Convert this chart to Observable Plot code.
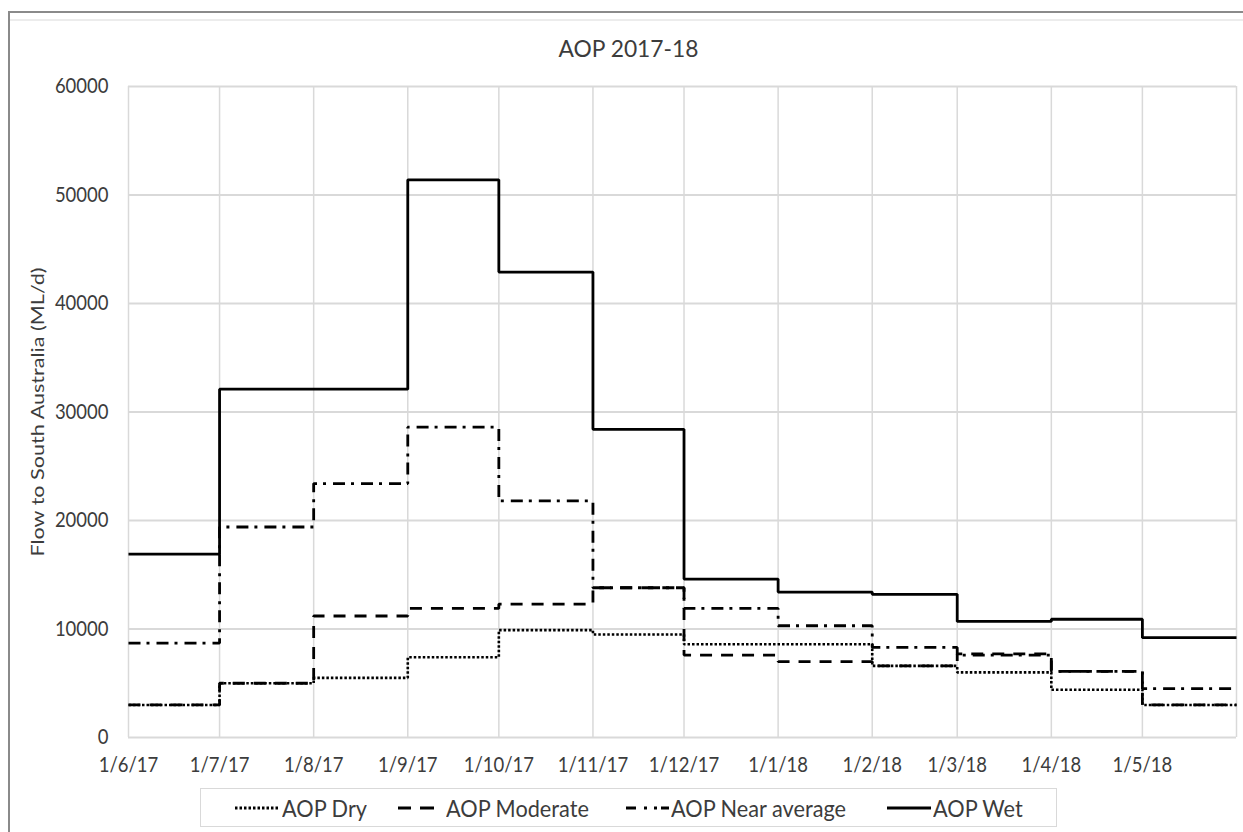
<!DOCTYPE html>
<html>
<head>
<meta charset="utf-8">
<script src="https://cdn.jsdelivr.net/npm/d3@7"></script>
<script src="https://cdn.jsdelivr.net/npm/@observablehq/plot@0.6"></script>
<style>
html,body{margin:0;padding:0;background:#fff;}
body{width:1243px;height:832px;position:relative;overflow:hidden;font-family:Lato,"Open Sans",sans-serif;color:#3c3c3c;}
#frame{position:absolute;left:8px;top:11px;width:1260px;height:900px;border-left:2px solid #8a8a8a;border-top:2px solid #8a8a8a;box-sizing:border-box;}
#shade{position:absolute;left:10px;top:19px;width:1240px;height:2px;background:#ececec;}
#title{position:absolute;top:36px;left:0;width:1257px;text-align:center;font-size:22.8px;line-height:24px;}
#chart{position:absolute;left:0;top:70px;}
#legend{position:absolute;left:200px;top:788px;width:857px;height:39px;border:1.5px solid #d9d9d9;box-sizing:border-box;}
.sw{position:absolute;top:0;height:100%;display:flex;align-items:center;}
.sw svg{display:block;}
.lt{position:absolute;top:0;height:100%;display:flex;align-items:center;font-size:21.7px;white-space:nowrap;}
.lt span{display:inline-block;transform:scaleY(1.1);}
</style>
</head>
<body>
<div id="frame"></div>
<div id="shade"></div>
<div id="title">AOP 2017-18</div>
<div id="chart"></div>
<div id="legend"></div>
<script>
// ---- data (monthly flow levels, ML/d) ----
const monthStarts = ["2017-06-01","2017-07-01","2017-08-01","2017-09-01","2017-10-01","2017-11-01",
                     "2017-12-01","2018-01-01","2018-02-01","2018-03-01","2018-04-01","2018-05-01"];
const periodEnd = "2018-06-01";
const tickLabels = ["1/6/17","1/7/17","1/8/17","1/9/17","1/10/17","1/11/17",
                    "1/12/17","1/1/18","1/2/18","1/3/18","1/4/18","1/5/18"];
const yTicks = [0, 10000, 20000, 30000, 40000, 50000, 60000];
const seriesNames = ["AOP Dry", "AOP Moderate", "AOP Near average", "AOP Wet"];
const aopDry         = [3000, 5000, 5500, 7400, 9900, 9500, 8600, 8600, 6600, 6000, 4400, 3000];
const aopModerate    = [3000, 5000, 11200, 11900, 12300, 13800, 7600, 7000, 6600, 7700, 6100, 3000];
const aopNearAverage = [8700, 19400, 23400, 28600, 21800, 13800, 11900, 10300, 8300, 7600, 6100, 4500];
const aopWet         = [16900, 32100, 32100, 51400, 42900, 28400, 14600, 13400, 13200, 10700, 10900, 9200];

const seriesValues = [aopDry, aopModerate, aopNearAverage, aopWet];
const dashes = ["2.5,2", "12,9", "12,6,3,7", "none"];
const widths = [2.6, 2.8, 2.8, 2.8];

const parse = d3.utcParse("%Y-%m-%d");
const dates = monthStarts.map(parse);
const endDate = parse(periodEnd);
const rows = [];
seriesNames.forEach((name, s) => {
  const vals = seriesValues[s];
  vals.forEach((v, i) => rows.push({series: name, date: dates[i], value: v}));
  rows.push({series: name, date: endDate, value: vals[vals.length - 1]});
});
const labelByTime = new Map(dates.map((d, i) => [+d, tickLabels[i]]));
const gridDates = [...dates, endDate];

const lineMarks = [3, 2, 1, 0].map(s => Plot.line(rows.filter(r => r.series === seriesNames[s]), {
  x: "date", y: "value", curve: "step-after",
  stroke: "#000", strokeWidth: widths[s], strokeDasharray: dashes[s],
  strokeLinejoin: "miter", strokeLinecap: "butt"
}));

const chart = Plot.plot({
  width: 1243, height: 712,
  marginTop: 16, marginBottom: 45, marginLeft: 128, marginRight: 7,
  style: {fontFamily: "Lato, 'Open Sans', sans-serif", fontSize: "18.5px", color: "#3c3c3c", background: "transparent", overflow: "visible"},
  x: {type: "utc", domain: [dates[0], endDate]},
  y: {domain: [0, 60000]},
  marks: [
    Plot.ruleY(yTicks, {stroke: "#d9d9d9", strokeWidth: 2}),
    Plot.ruleX(gridDates, {stroke: "#d9d9d9", strokeWidth: 1.5}),
    Plot.axisX(dates, {tickSize: 0, tickPadding: 19, tickFormat: d => labelByTime.get(+d), label: null, fontSize: 18.5}),
    Plot.axisY(yTicks, {tickSize: 0, tickPadding: 20, tickFormat: d => String(d), fontSize: 18.5,
      label: "Flow to South Australia (ML/d)", labelAnchor: "center", labelOffset: 97, labelArrow: "none"}),
    ...lineMarks
  ]
});
document.getElementById("chart").appendChild(chart);

// stretch axis text vertically to mimic the reference's slightly tall glyphs
function stretch(sel, sx, sy) {
  sel.each(function() {
    const t = this.getAttribute("transform");
    if (t) this.setAttribute("transform", t + ` scale(${sx},${sy})`);
    else {
      const x = +this.getAttribute("x") || 0, y = +this.getAttribute("y") || 0;
      this.setAttribute("transform", `translate(${x},${y}) scale(${sx},${sy}) translate(${-x},${-y})`);
    }
  });
}
const svg = d3.select(chart.tagName.toLowerCase() === "svg" ? chart : chart.querySelector("svg"));
stretch(svg.selectAll('g[aria-label="x-axis tick label"] text'), 1, 1.15);
stretch(svg.selectAll('g[aria-label="y-axis tick label"] text'), 1, 1.15);
svg.selectAll('g[aria-label="y-axis label"] text').style("font-size", "18px");
stretch(svg.selectAll('g[aria-label="y-axis label"] text'), 1.2, 1);

// legend (positions relative to the legend box)
const swatchX = [34, 197, 425, 686];
const swatchW = [45, 36, 43, 44];
const textX = [81, 245, 470, 732];
const legendDash = ["2.5,2", "13,9,14,0", "10,8,3,7,3,4,8,0", "none"];
const legend = d3.select("#legend");
seriesNames.forEach((name, s) => {
  const sw = legend.append("div").attr("class", "sw").style("left", swatchX[s] + "px")
    .append("svg").attr("width", swatchW[s]).attr("height", 6);
  sw.append("line").attr("x1", 0).attr("x2", swatchW[s]).attr("y1", 3).attr("y2", 3)
    .attr("stroke", "#000").attr("stroke-width", 2.8).attr("stroke-dasharray", legendDash[s]);
  legend.append("div").attr("class", "lt").style("left", textX[s] + "px").append("span").text(name);
});
</script>
</body>
</html>
